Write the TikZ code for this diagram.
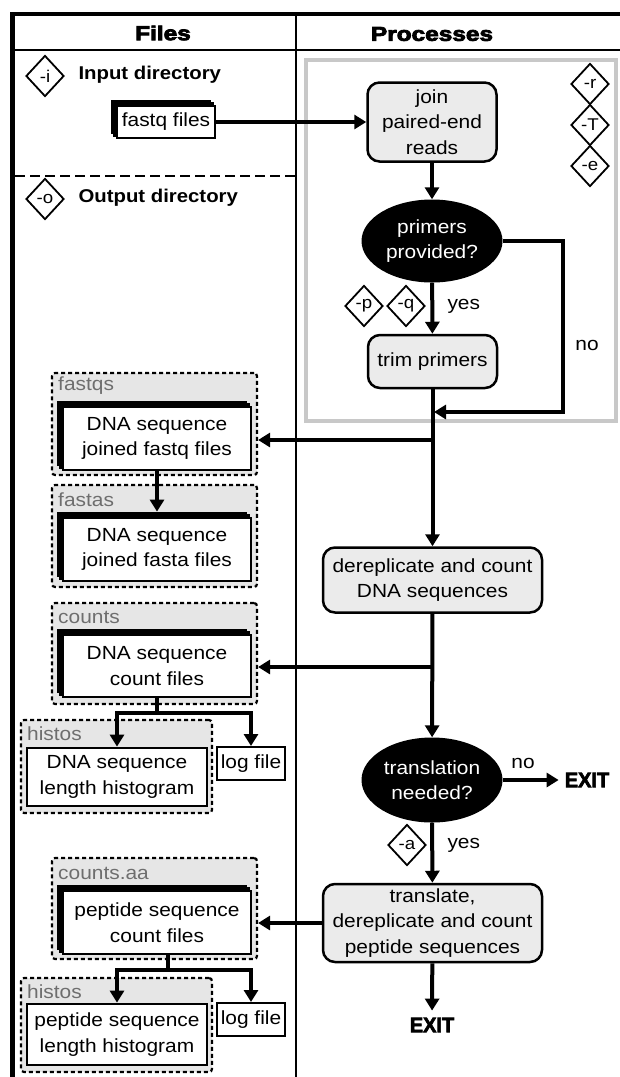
\documentclass[tikz,border=0pt]{standalone}
\usepackage{fontspec}
\setmainfont{Liberation Sans}[FakeStretch=1.1]
\newfontfamily\headfont{Liberation Sans}[FakeStretch=1.22, BoldFeatures={FakeBold=4}]
\newfontfamily\exitfont{Liberation Sans}[FakeStretch=0.95, BoldFeatures={FakeBold=3}]
\usepackage{xcolor}
\usetikzlibrary{
  arrows.meta,
  calc,
  shapes.geometric,
  shadows
}
\definecolor{procgray}{HTML}{EBEBEB}
\definecolor{dirgray}{HTML}{E6E6E6}
\definecolor{labelgray}{HTML}{6E6E6E}
\definecolor{groupgray}{HTML}{C8C8C8}
\tikzset{
  txt/.style={font=\fontsize{19}{25.5}\selectfont},
  head/.style={font=\headfont\bfseries\fontsize{20}{24}\selectfont},
  dirname/.style={font=\bfseries\fontsize{18.5}{22}\selectfont, anchor=west},
  opt/.style={
    diamond, draw, fill=white, line width=1.8pt, inner sep=0pt,
    minimum width=38pt, minimum height=41pt,
    font=\fontsize{17}{17}\selectfont},
  proc/.style={
    txt, draw, fill=procgray, line width=2.5pt,
    rounded corners=12pt, align=center, inner sep=2pt},
  decide/.style={txt, ellipse, fill=black, text=white, align=center, inner sep=0pt},
  file/.style={txt, draw, fill=white, line width=2.8pt, align=center, inner sep=2pt},
  files/.style={file, double copy shadow={shadow xshift=-2.5pt, shadow yshift=2.5pt}},
  dir/.style={
    draw, dash pattern=on 4pt off 3pt, line width=2.2pt,
    fill=dirgray, rounded corners=3pt, inner sep=0pt},
  dirlabel/.style={txt, text=labelgray, anchor=west, inner sep=0pt},
  flow/.style={line width=4pt, -{Triangle[length=12pt,width=14pt]}},
  link/.style={line width=4pt},
  exit/.style={font=\exitfont\bfseries\fontsize{21}{21}\selectfont, inner sep=0pt}
}

\begin{document}
\begin{tikzpicture}[x=1pt, y=-1pt]
  \useasboundingbox (0,0) rectangle (620,1077);

  % table frame
  \draw[line width=4pt] (10,14) -- (620,14);
  \draw[line width=5pt] (12.5,12) -- (12.5,1077);
  \draw[line width=2pt] (12,50) -- (620,50);
  \draw[line width=2pt] (296,14) -- (296,1077);
  \draw[line width=2.5pt, dash pattern=on 10pt off 5pt] (15,176) -- (295,176);
  \node[head] (fileshead) at (163,33) {Files};
  \node[head] (prochead) at (432,34) {Processes};

  \node[draw=groupgray, line width=4pt, minimum width=310pt, minimum height=361pt]
    (joingroup) at (461,240.5) {};

  % files
  \node[opt] (iopt) at (45,76) {-i};
  \node[dirname] (indir) at (75,75) {Input directory};
  \node[files, minimum width=98pt, minimum height=32pt] (fastq) at (166,122) {fastq files};
  \node[opt] (oopt) at (45,199) {-o};
  \node[dirname] (outdir) at (75,198) {Output directory};

  \node[dir, minimum width=205pt, minimum height=102pt] (fastqsdir) at (154.5,424) {};
  \node[dirlabel] at (58,386) {fastqs};
  \node[files, minimum width=188pt, minimum height=63pt] (fastqs) at (157,438.5)
    {DNA sequence\\joined fastq files};
  \node[dir, minimum width=205pt, minimum height=102pt] (fastasdir) at (154.5,536) {};
  \node[dirlabel] at (58,500) {fastas};
  \node[files, minimum width=188pt, minimum height=63pt] (fastas) at (157,549.5)
    {DNA sequence\\joined fasta files};

  \node[dir, minimum width=205pt, minimum height=101pt] (countsdir) at (154.5,653.5) {};
  \node[dirlabel] at (58,617) {counts};
  \node[files, minimum width=188pt, minimum height=62pt] (counts) at (157,666)
    {DNA sequence\\count files};
  \node[dir, minimum width=191pt, minimum height=93pt] (histosdir) at (116.5,766.5) {};
  \node[dirlabel] at (27,734) {histos};
  \node[file, minimum width=180pt, minimum height=58pt] (histo) at (117,777)
    {DNA sequence\\length histogram};
  \node[file, minimum width=68pt, minimum height=33pt, line width=2pt] (log1) at (251,763.5) {log file};

  \node[dir, minimum width=205pt, minimum height=101pt] (aadir) at (154.5,908.5) {};
  \node[dirlabel] at (58,873) {counts.aa};
  \node[files, minimum width=188pt, minimum height=63pt] (aa) at (157,922.5)
    {peptide sequence\\count files};
  \node[dir, minimum width=191pt, minimum height=94pt] (histosdir2) at (116.5,1025) {};
  \node[dirlabel] at (27,992) {histos};
  \node[file, minimum width=180pt, minimum height=61pt] (histo2) at (117,1034.5)
    {peptide sequence\\length histogram};
  \node[file, minimum width=68pt, minimum height=33pt, line width=2pt] (log2) at (251,1019.5) {log file};

  % processes
  \node[proc, minimum width=129pt, minimum height=79pt] (join) at (432,122) {join\\paired-end\\reads};
  \node[opt] (ropt) at (590,84) {-r};
  \node[opt] (Topt) at (590,125) {-T};
  \node[opt] (eopt) at (590,166) {-e};
  \node[decide, minimum width=141pt, minimum height=83pt] (primers) at (432,241) {primers\\provided?};
  \node[opt] (popt) at (364,306) {-p};
  \node[opt] (qopt) at (406,306) {-q};
  \node[txt, anchor=west] (yes1) at (444,306) {yes};
  \node[proc, minimum width=129pt, minimum height=53pt] (trim) at (432.5,361.5) {trim primers};
  \node[txt] (no1) at (587,345) {no};
  \coordinate (nocorner) at (563,412);
  \coordinate (merge) at (432,412);
  \coordinate (split1) at (432,440);
  \node[proc, minimum width=219pt, minimum height=65pt] (derep) at (432.5,580)
    {dereplicate and count\\DNA sequences};
  \coordinate (split2) at (432,667);
  \node[decide, minimum width=141pt, minimum height=85pt] (transl) at (432,780) {translation\\needed?};
  \node[txt] (no2) at (523,763) {no};
  \node[exit] (exit1) at (587,780) {EXIT};
  \node[opt] (aopt) at (407,845) {-a};
  \node[txt, anchor=west] (yes2) at (444,845) {yes};
  \node[proc, minimum width=219pt, minimum height=78pt] (translate) at (432.5,923)
    {translate,\\dereplicate and count\\peptide sequences};
  \node[exit] (exit2) at (432,1025) {EXIT};

  \path[flow]
    (fastq) edge (join)
    (join) edge (primers)
    (primers) edge (trim)
    (trim) edge (derep)
    (derep) edge (transl)
    (transl) edge (translate)
    (transl) edge[shorten >=6pt] (exit1)
    (translate) edge[shorten >=7pt] (exit2)
    (translate) edge (aadir.east |- translate)
    (split1) edge (fastqsdir.east |- split1)
    (split2) edge (countsdir.east |- split2)
    (fastqs) edge ([yshift=5pt]fastas.north);
  \draw[flow, shorten >=2pt] (primers.east) -| (nocorner) -- (merge);

  \coordinate (cb1) at (157,713);
  \draw[link] (counts) -- (cb1);
  \draw[flow] (cb1) -| (histo);
  \draw[flow] (cb1) -| (log1);
  \coordinate (cb2) at (168,970);
  \draw[link] (cb2 |- aa.south) -- (cb2);
  \draw[flow] (cb2) -| (histo2);
  \draw[flow] (cb2) -| (log2);
\end{tikzpicture}
\end{document}
